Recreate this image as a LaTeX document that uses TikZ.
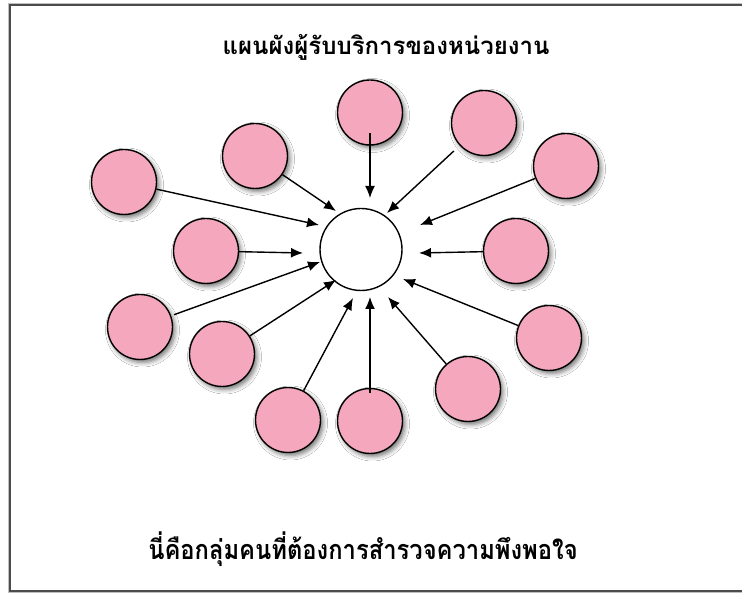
\documentclass[tikz,border=0pt]{standalone}
\usepackage{fontspec}
\newfontfamily\thaifont[Script=Thai]{Loma}
\newfontfamily\thaicond[Script=Thai,FakeStretch=0.88]{Loma}
\usetikzlibrary{arrows.meta,shadows.blur}
\definecolor{pinkfill}{RGB}{244,167,189}
\begin{document}
\begin{tikzpicture}[x=1pt,y=-1pt,
  pinkc/.style={circle, draw=black, line width=1.4pt, fill=pinkfill, minimum size=65pt, inner sep=0pt,
    blur shadow={shadow xshift=2.5pt, shadow yshift=-3pt, shadow blur radius=4.5pt, shadow opacity=55}},
  centerc/.style={circle, draw=black, line width=1.4pt, fill=white, minimum size=82pt, inner sep=0pt},
  arr/.style={-{Latex[length=12pt,width=10pt]}, line width=1.4pt},
  titletext/.style={font=\thaifont\bfseries\fontsize{24}{28}\selectfont, anchor=base, inner sep=0pt},
  captext/.style={font=\thaicond\bfseries\fontsize{27}{31}\selectfont, anchor=base, inner sep=0pt}]
\useasboundingbox (0,0) rectangle (742,593);
\fill[white] (0,0) rectangle (742,593);
% frame
\draw[black!25, line width=1.5pt] (8.5,3.5) rectangle (800,592.5);
\draw[black!70, line width=1.5pt] (10,5) rectangle (800,591);
% texts
\node[titletext] (title) at (386,55) {แผนผังผู้รับบริการของหน่วยงาน};
\node[captext] (caption) at (363,559) {นี่คือกลุ่มคนที่ต้องการสำรวจความพึงพอใจ};
% central circle
\node[centerc] (c) at (361,249.5) {};
% pink circles
\node[pinkc] (p1) at (370,112.5) {};
\node[pinkc] (p2) at (484,123) {};
\node[pinkc] (p3) at (566,166) {};
\node[pinkc] (p4) at (255,156) {};
\node[pinkc] (p5) at (124,182) {};
\node[pinkc] (p6) at (206,251) {};
\node[pinkc] (p7) at (516,251) {};
\node[pinkc] (p8) at (140,327) {};
\node[pinkc] (p9) at (549,338) {};
\node[pinkc] (p10) at (222,354) {};
\node[pinkc] (p11) at (468,389) {};
\node[pinkc] (p12) at (288,420) {};
\node[pinkc] (p13) at (370,421) {};
% arrow tips (free ends near the central circle)
\coordinate (e1) at (370,198);
\coordinate (e2) at (387,213);
\coordinate (e3) at (420,225);
\coordinate (e4) at (336,211);
\coordinate (e5) at (319,225);
\coordinate (e6) at (303,253);
\coordinate (e7) at (419,253);
\coordinate (e8) at (320,262);
\coordinate (e9) at (403,279);
\coordinate (e10) at (336,280);
\coordinate (e11) at (388,297);
\coordinate (e12) at (353,298);
\coordinate (e13) at (370,297);
% arrows
\draw[arr, shorten <=-12.5pt] (p1) -- (e1);
\draw[arr, shorten <=8pt] (p2) -- (e2);
\draw[arr] (p3) -- (e3);
\draw[arr] (p4) -- (e4);
\draw[arr] (p5) -- (e5);
\draw[arr] (p6) -- (e6);
\draw[arr] (p7) -- (e7);
\draw[arr, shorten <=3pt] (p8) -- (e8);
\draw[arr] (p9) -- (e9);
\draw[arr] (p10) -- (e10);
\draw[arr] (p11) -- (e11);
\draw[arr] (p12) -- (e12);
\draw[arr, shorten <=-5pt] (p13) -- (e13);
\end{tikzpicture}
\end{document}
